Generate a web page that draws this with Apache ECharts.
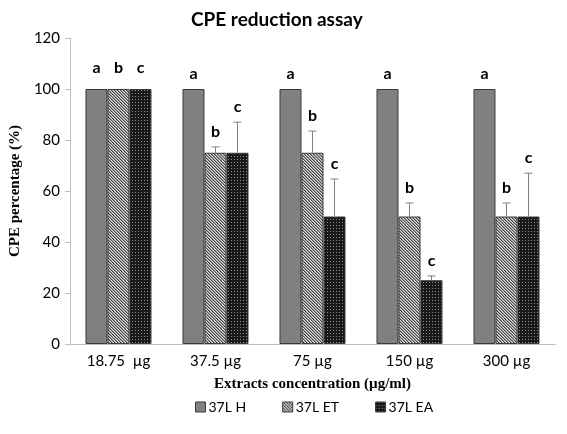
<!DOCTYPE html>
<html>
<head>
<meta charset="utf-8">
<script src="https://cdn.jsdelivr.net/npm/echarts@6/dist/echarts.min.js"></script>
<style>html,body{margin:0;padding:0;background:#fff}#c{width:567px;height:434px}</style>
</head>
<body>
<div id="c"></div>
<script>
var categories = ['18.75  µg', '37.5 µg', '75 µg', '150 µg', '300 µg'];
var seriesNames = ['37L H', '37L ET', '37L EA'];
var valuesH = [100, 100, 100, 100, 100];
var valuesET = [100, 75, 75, 50, 50];
var valuesEA = [100, 75, 50, 25, 50];
var errH = [0, 0, 0, 0, 0];
var errET = [0, 2.3, 8.5, 5.3, 5.3];
var errEA = [0, 12, 14.7, 1.7, 17];
var lettersH = ['a', 'a', 'a', 'a', 'a'];
var lettersET = ['b', 'b', 'b', 'b', 'b'];
var lettersEA = ['c', 'c', 'c', 'c', 'c'];
var yTicks = [0, 20, 40, 60, 80, 100, 120];

function makePattern(kind) {
  var size = 6;
  var cv = document.createElement('canvas');
  cv.width = size; cv.height = size;
  var ctx = cv.getContext('2d');
  var img = ctx.createImageData(size, size);
  for (var y = 0; y < size; y++) {
    for (var x = 0; x < size; x++) {
      var c;
      if (kind === 'ET') {
        var m = (((x - y) % 3) + 3) % 3;
        c = m === 0 ? 70 : (m === 1 ? 150 : 220);
      } else {
        c = (x % 3 === 0 && y % 3 === 0) ? 140 : 25;
      }
      var i = (y * size + x) * 4;
      img.data[i] = c; img.data[i + 1] = c; img.data[i + 2] = c; img.data[i + 3] = 255;
    }
  }
  ctx.putImageData(img, 0, 0);
  return { image: cv, repeat: 'repeat' };
}

var fills = ['#808080', makePattern('ET'), makePattern('EA')];
var allValues = [valuesH, valuesET, valuesEA];
var allErr = [errH, errET, errEA];
var allLetters = [lettersH, lettersET, lettersEA];
var BAR_W = 22;

var series = [];
for (var s = 0; s < 3; s++) {
  series.push({
    name: seriesNames[s],
    type: 'bar',
    data: allValues[s],
    barWidth: BAR_W,
    barGap: '0%',
    itemStyle: { color: fills[s], borderColor: '#3a3a3a', borderWidth: 1 },
    emphasis: { disabled: true }
  });
}
for (var s2 = 0; s2 < 3; s2++) {
  (function (si) {
    var d = [];
    for (var k = 0; k < categories.length; k++) {
      d.push([k, allValues[si][k], allErr[si][k]]);
    }
    series.push({
      type: 'custom',
      data: d,
      z: 10,
      silent: true,
      renderItem: function (params, api) {
        var idx = api.value(0);
        var v = api.value(1);
        var e = api.value(2);
        var letter = allLetters[si][params.dataIndex];
        var base = api.coord([idx, v]);
        var top = api.coord([idx, v + e]);
        var x = base[0] + (si - 1) * BAR_W;
        var children = [];
        if (e > 0) {
          children.push({ type: 'line', shape: { x1: x, y1: base[1], x2: x, y2: top[1] }, style: { stroke: '#808080', lineWidth: 1 } });
          children.push({ type: 'line', shape: { x1: x - 4, y1: top[1], x2: x + 4, y2: top[1] }, style: { stroke: '#808080', lineWidth: 1 } });
        }
        var off = idx === 0 ? 21 : 15;
        children.push({ type: 'text', style: { text: letter, x: x, y: top[1] - off, align: 'center', verticalAlign: 'middle', font: 'bold 16px Lato, "Open Sans", sans-serif', fill: '#000' } });
        return { type: 'group', children: children };
      }
    });
  })(s2);
}

var chart = echarts.init(document.getElementById('c'), null, { renderer: 'canvas' });
chart.setOption({
  animation: false,
  backgroundColor: '#fff',
  title: {
    text: 'CPE reduction assay',
    left: 186,
    top: 5,
    textStyle: { fontFamily: 'Lato, "Open Sans", sans-serif', fontWeight: 'bold', fontSize: 19, color: '#000' }
  },
  legend: {
    data: seriesNames,
    bottom: 15,
    left: 190,
    icon: 'rect',
    itemWidth: 10,
    itemHeight: 10,
    itemGap: 36,
    itemStyle: { borderColor: '#3a3a3a', borderWidth: 1 },
    textStyle: { fontFamily: 'Lato, "Open Sans", sans-serif', fontSize: 14, color: '#000', padding: [0, 0, 0, -2] }
  },
  grid: { left: 69, right: 12, top: 38, bottom: 90 },
  xAxis: {
    type: 'category',
    data: categories,
    name: 'Extracts concentration (µg/ml)',
    nameLocation: 'middle',
    nameGap: 33,
    nameTextStyle: { fontFamily: '"Liberation Serif", "Times New Roman", serif', fontWeight: 'bold', fontSize: 15, color: '#000', verticalAlign: 'top' },
    axisLine: { lineStyle: { color: '#bfbfbf', width: 1 } },
    axisTick: { show: false },
    axisLabel: { margin: 10, fontFamily: 'Lato, "Open Sans", sans-serif', fontSize: 15, color: '#000' }
  },
  yAxis: {
    type: 'value',
    min: 0,
    max: 120,
    interval: 20,
    name: 'CPE percentage (%)',
    nameLocation: 'middle',
    nameGap: 46,
    nameTextStyle: { fontFamily: '"Liberation Serif", "Times New Roman", serif', fontWeight: 'bold', fontSize: 15, color: '#000' },
    axisLine: { show: true, lineStyle: { color: '#bfbfbf', width: 1 } },
    axisTick: { show: true, length: 5, lineStyle: { color: '#bfbfbf' } },
    splitLine: { show: false },
    axisLabel: {
      margin: 10,
      fontFamily: 'Lato, "Open Sans", sans-serif', fontSize: 15, color: '#000',
      formatter: function (v) { return yTicks.indexOf(v) >= 0 ? String(v) : ''; }
    }
  },
  series: series
});
</script>
</body>
</html>
